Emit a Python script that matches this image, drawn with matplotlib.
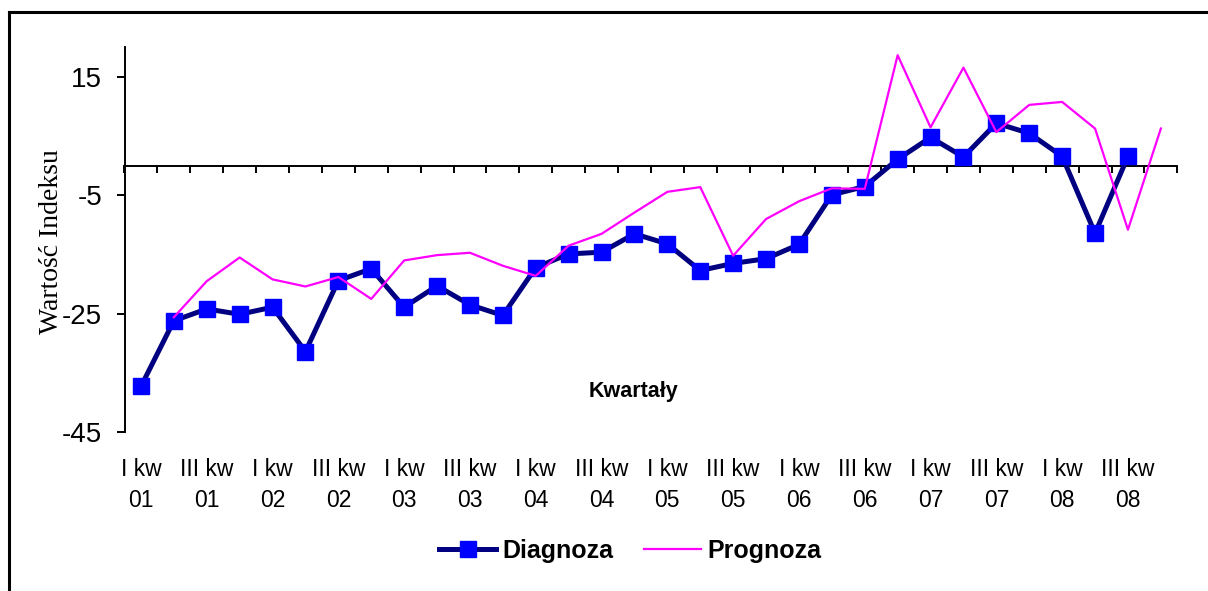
import numpy as np
import matplotlib
matplotlib.use("Agg")
import matplotlib.pyplot as plt
from matplotlib.lines import Line2D

plt.rcParams["axes.unicode_minus"] = False

# quarters I kw 01 .. IV kw 08
QUARTERS = [f"{q} kw {y:02d}" for y in range(1, 9) for q in ("I", "II", "III", "IV")]

TICK_LABELS = [
    "I kw\n01", "III kw\n01", "I kw\n02", "III kw\n02",
    "I kw\n03", "III kw\n03", "I kw\n04", "III kw\n04",
    "I kw\n05", "III kw\n05", "I kw\n06", "III kw\n06",
    "I kw\n07", "III kw\n07", "I kw\n08", "III kw\n08",
]

# Diagnoza: I kw 01 .. III kw 08
DIAGNOZA = [
    -37.3, -26.2, -24.2, -25.1, -23.9, -31.4, -19.4, -17.4,
    -23.9, -20.3, -23.5, -25.3, -17.2, -14.9, -14.6, -11.5,
    -13.2, -17.7, -16.5, -15.7, -13.3, -4.9, -3.5, 1.1,
    4.8, 1.5, 7.2, 5.5, 1.6, -11.4, 1.6,
]

# Prognoza: II kw 01 .. IV kw 08
PROGNOZA = [
    -25.6, -19.5, -15.5, -19.2, -20.4, -18.8, -22.5, -16.0,
    -15.1, -14.7, -16.9, -18.6, -13.5, -11.5, -7.9, -4.4,
    -3.6, -15.2, -9.0, -6.0, -3.8, -3.9, 18.7, 6.5,
    16.6, 5.7, 10.3, 10.8, 6.3, -10.8, 6.3,
]

Y_TICKS = [-45, -25, -5, 15]

SANS = "Liberation Sans"
SERIF = "Liberation Serif"

W, H = 1208, 591
fig = plt.figure(figsize=(W / 100, H / 100), dpi=100)
fig.patch.set_facecolor("white")

ax = fig.add_axes([124.5 / W, 1 - 432 / H, 1052.8 / W, 384.5 / H])
ax.set_facecolor("white")

x_diag = np.arange(len(DIAGNOZA))
x_prog = np.arange(1, len(PROGNOZA) + 1)

ax.plot(x_diag, DIAGNOZA, color="#000080", lw=3.6, marker="s", ms=11.5,
        mfc="#0000FF", mec="#0000FF", label="Diagnoza", zorder=3)
ax.plot(x_prog, PROGNOZA, color="#FF00FF", lw=1.6, label="Prognoza", zorder=4)

ax.set_xlim(-0.5, len(QUARTERS) - 0.5)
ax.set_ylim(-45, 20)

for s in ("top", "right"):
    ax.spines[s].set_visible(False)
ax.spines["left"].set_linewidth(1.4)
ax.spines["bottom"].set_position(("data", 0))
ax.spines["bottom"].set_linewidth(1.4)

ax.set_yticks(Y_TICKS)
ax.tick_params(axis="y", direction="out", length=6, width=1.4, pad=10,
               labelsize=20)
for t in ax.get_yticklabels():
    t.set_fontfamily(SANS)

ax.set_xticks([])
ax.set_xticks(np.arange(-0.5, len(QUARTERS), 1), minor=True)
ax.tick_params(axis="x", which="minor", direction="out", length=5, width=1.4)

sec = ax.secondary_xaxis(0)
sec.spines["bottom"].set_visible(False)
sec.set_xticks(np.arange(0, len(QUARTERS), 2), labels=TICK_LABELS)
sec.tick_params(axis="x", length=0, pad=19, labelsize=16.5)
for t in sec.get_xticklabels():
    t.set_fontfamily(SANS)
    t.set_linespacing(1.4)

fig.text(52 / W, 1 - 242 / H, "Wartość Indeksu", rotation=90, ha="center",
         va="center", fontsize=20, fontfamily=SERIF)
fig.text(633 / W, 1 - 392 / H, "Kwartały", ha="center", va="center",
         fontsize=15.5, fontweight="bold", fontfamily=SANS)

leg = fig.legend(loc="center", bbox_to_anchor=(630 / W, 1 - 551 / H), ncol=2,
                 frameon=False, handlelength=2.3, handletextpad=0.25,
                 columnspacing=1.2, prop={"family": SANS, "weight": "bold",
                                          "size": 18})

# outer chart border (cropped at right/bottom)
fig.add_artist(Line2D([9 / W, 1], [1 - 12 / H, 1 - 12 / H], color="black",
                      lw=2.2, transform=fig.transFigure))
fig.add_artist(Line2D([9 / W, 9 / W], [0, 1 - 12 / H], color="black",
                      lw=2.2, transform=fig.transFigure))

fig.savefig("out.png", dpi=100)
